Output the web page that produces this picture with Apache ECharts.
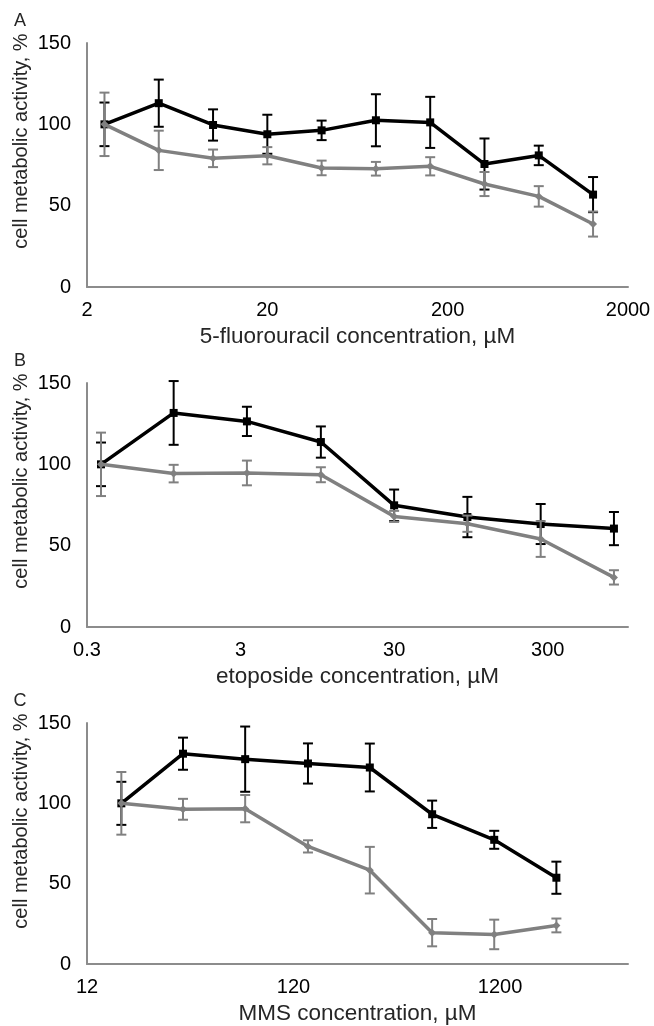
<!DOCTYPE html>
<html>
<head>
<meta charset="utf-8">
<script src="https://cdn.jsdelivr.net/npm/echarts@6/dist/echarts.min.js"></script>
<style>
  html, body { margin: 0; padding: 0; background: #fff; }
  #main { width: 654px; height: 1026px; }
</style>
</head>
<body>
<div id="main"></div>
<script>
// concentrations (µM) and metabolic activity (%)
var concA = [2.5, 5, 10, 20, 40, 80, 160, 320, 640, 1280];
var blackA = [100, 113, 99.6, 93.9, 96.3, 102.5, 101.2, 75.6, 80.9, 56.8];
var blackErrA = [13.4, 14.5, 9.6, 12, 6, 16, 15.7, 15.7, 6, 10.8];
var grayA = [100, 84, 79.1, 80.7, 73.2, 72.7, 74.2, 63.3, 55.7, 38.7];
var grayErrA = [19.5, 12.1, 5.4, 5.3, 4.5, 4.2, 5.6, 7.4, 6.3, 7.7];

var concB = [0.37, 1.1, 3.3, 10, 30, 90, 270, 810];
var blackB = [100, 131.6, 126.4, 113.7, 74.8, 67.6, 63.3, 60.5];
var blackErrB = [13.4, 19.6, 9, 9.6, 9.7, 12.4, 12.3, 10.2];
var grayB = [100, 94.3, 94.7, 93.6, 68, 63.5, 54.1, 30.5];
var grayErrB = [19.5, 5.4, 7.6, 4.6, 3.4, 5, 11, 4.4];

var concC = [17.6, 35, 70, 141, 281, 563, 1125, 2250];
var blackC = [100, 130.9, 127.5, 124.8, 122.3, 93.2, 77.3, 53.7];
var blackErrC = [13.4, 10, 20.3, 12.5, 14.9, 8.5, 5.6, 10];
var grayC = [100, 96.3, 96.7, 73.2, 58.4, 19.5, 18.4, 24];
var grayErrC = [19.5, 6.5, 8.5, 3.8, 14.5, 8.5, 9.2, 4.3];

// x axis ranges (log10 scale), tick labels
var minA = 2, maxA = 2000, ticksA = ['2', '20', '200', '2000'];
var minB = 0.3, maxB = 1000, ticksB = ['0.3', '3', '30', '300'];
var minC = 12, maxC = 5000, ticksC = ['12', '120', '1200'];

var xNames = ['5-fluorouracil concentration, µM', 'etoposide concentration, µM', 'MMS concentration, µM'];
var yName = 'cell metabolic activity, %';
var panelLetters = ['A', 'B', 'C'];

var BLACK = '#000000';
var GRAY = '#808080';
var AXIS = '#8c8c8c';
var FONT = 'Liberation Sans';

// decades above the axis minimum, so min can be 0 with interval 1
function toX(c, min) { return Math.log10(c / min); }

function linePoints(conc, vals, min) {
  return conc.map(function (c, i) { return [toX(c, min), vals[i]]; });
}
function errPoints(conc, vals, errs, min) {
  return conc.map(function (c, i) { return [toX(c, min), vals[i] - errs[i], vals[i] + errs[i]]; });
}

// error bar: vertical line with caps
function renderErr(color) {
  return function (params, api) {
    var lo = api.coord([api.value(0), api.value(1)]);
    var hi = api.coord([api.value(0), api.value(2)]);
    var w = 5;
    var st = { stroke: color, lineWidth: 2 };
    return {
      type: 'group',
      children: [
        { type: 'line', shape: { x1: lo[0], y1: lo[1], x2: hi[0], y2: hi[1] }, style: st },
        { type: 'line', shape: { x1: lo[0] - w, y1: lo[1], x2: lo[0] + w, y2: lo[1] }, style: st },
        { type: 'line', shape: { x1: hi[0] - w, y1: hi[1], x2: hi[0] + w, y2: hi[1] }, style: st }
      ]
    };
  };
}

var panels = [
  { conc: concA, b: blackA, be: blackErrA, g: grayA, ge: grayErrA, min: minA, max: maxA, ticks: ticksA },
  { conc: concB, b: blackB, be: blackErrB, g: grayB, ge: grayErrB, min: minB, max: maxB, ticks: ticksB },
  { conc: concC, b: blackC, be: blackErrC, g: grayC, ge: grayErrC, min: minC, max: maxC, ticks: ticksC }
];

var grids = [], xAxes = [], yAxes = [], series = [], graphics = [];

panels.forEach(function (p, i) {
  var off = i * 340;
  grids.push({ left: 87, right: 26, top: 43 + off, height: 244 });

  xAxes.push({
    gridIndex: i,
    type: 'value',
    min: 0,
    max: toX(p.max, p.min),
    interval: 1,
    splitLine: { show: false },
    axisTick: { show: false },
    axisLine: { lineStyle: { color: AXIS, width: 2 } },
    axisLabel: {
      color: '#000', fontFamily: FONT, fontSize: 20, margin: 13,
      showMaxLabel: true,
      formatter: function (v) {
        if (Math.abs(v - Math.round(v)) > 1e-6) return '';
        return p.ticks[Math.round(v)] || '';
      }
    },
    name: xNames[i],
    nameLocation: 'middle',
    nameGap: 38,
    nameTextStyle: { color: '#262626', fontFamily: FONT, fontSize: 22.5 }
  });

  yAxes.push({
    gridIndex: i,
    type: 'value',
    min: 0,
    max: 150,
    interval: 50,
    splitLine: { show: false },
    axisTick: { show: false },
    axisLine: { show: true, lineStyle: { color: AXIS, width: 2 } },
    axisLabel: { color: '#000', fontFamily: FONT, fontSize: 20, margin: 16 }
  });

  series.push({
    type: 'custom', xAxisIndex: i, yAxisIndex: i,
    renderItem: renderErr(BLACK),
    data: errPoints(p.conc, p.b, p.be, p.min), z: 2, silent: true
  });
  series.push({
    type: 'line', xAxisIndex: i, yAxisIndex: i,
    data: linePoints(p.conc, p.b, p.min),
    symbol: 'rect', symbolSize: 8,
    lineStyle: { color: BLACK, width: 3.5 },
    itemStyle: { color: BLACK },
    z: 3, animation: false
  });
  series.push({
    type: 'custom', xAxisIndex: i, yAxisIndex: i,
    renderItem: renderErr(GRAY),
    data: errPoints(p.conc, p.g, p.ge, p.min), z: 4, silent: true
  });
  series.push({
    type: 'line', xAxisIndex: i, yAxisIndex: i,
    data: linePoints(p.conc, p.g, p.min),
    symbol: 'diamond', symbolSize: 8,
    lineStyle: { color: GRAY, width: 3.5 },
    itemStyle: { color: GRAY },
    z: 5, animation: false
  });

  // y axis title sits a bit above the axis centre in the original
  graphics.push({
    id: 'ytitle' + i,
    type: 'text', x: 21, y: 141 + off, rotation: Math.PI / 2,
    style: { text: yName, fill: '#262626', font: '20px ' + FONT, align: 'center', verticalAlign: 'middle' }
  });
  // panel letter
  graphics.push({
    id: 'letter' + i,
    type: 'text', x: 20, y: 21 + off,
    style: { text: panelLetters[i], fill: '#262626', font: '18px ' + FONT, align: 'center', verticalAlign: 'middle' }
  });
});

var myChart = echarts.init(document.getElementById('main'));
myChart.setOption({
  animation: false,
  grid: grids,
  xAxis: xAxes,
  yAxis: yAxes,
  series: series,
  graphic: graphics
});
</script>
</body>
</html>
